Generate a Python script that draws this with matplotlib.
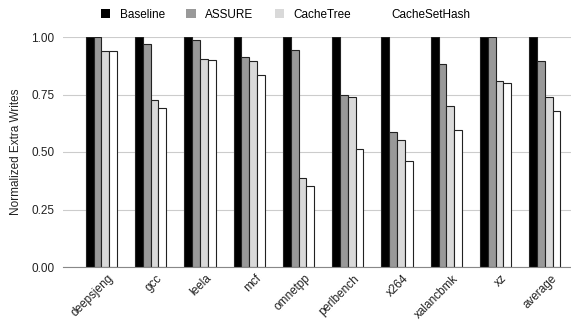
import matplotlib.pyplot as plt
import matplotlib.transforms as mtrans
import numpy as np

plt.rcParams['font.family'] = ['Liberation Sans', 'DejaVu Sans']

benchmarks = ['deepsjeng', 'gcc', 'leela', 'mcf', 'omnetpp', 'perlbench',
              'x264', 'xalancbmk', 'xz', 'average']
baseline = [1.0, 1.0, 1.0, 1.0, 1.0, 1.0, 1.0, 1.0, 1.0, 1.0]
assure = [1.0, 0.971, 0.988, 0.911, 0.945, 0.75, 0.589, 0.884, 1.0, 0.894]
cachetree = [0.938, 0.727, 0.906, 0.894, 0.388, 0.738, 0.554, 0.70, 0.807, 0.737]
cachesethash = [0.938, 0.693, 0.90, 0.833, 0.353, 0.513, 0.461, 0.594, 0.802, 0.68]

series = [('Baseline', baseline, '#000000'),
          ('ASSURE', assure, '#999999'),
          ('CacheTree', cachetree, '#d9d9d9'),
          ('CacheSetHash', cachesethash, '#ffffff')]

fig = plt.figure(figsize=(5.71, 3.2), dpi=100)
ax = fig.add_axes([63 / 571, 53 / 320, 508 / 571, 230 / 320])

x = np.arange(len(benchmarks))
w = 0.158
for i, (name, vals, col) in enumerate(series):
    ax.bar(x + (i - 1.5) * w, vals, w, color=col, edgecolor='#222222',
           linewidth=0.8, label=name, zorder=3)

ax.set_xlim(-0.78, 9.53)
ax.set_ylim(0, 1.0)
ax.set_yticks([0, 0.25, 0.5, 0.75, 1.0])
ax.set_yticklabels(['0.00', '0.25', '0.50', '0.75', '1.00'])
ax.yaxis.grid(True, color='#cccccc', linewidth=0.8, zorder=0)
ax.set_xticks(x)
ax.set_xticklabels(benchmarks, rotation=45, ha='right', rotation_mode='anchor')
ax.tick_params(axis='both', length=0, labelsize=8.5, colors='#222222')
ax.tick_params(axis='x', pad=4)
ax.tick_params(axis='y', pad=6)
# nudge the rotated labels a bit to the right, like the original
shift = mtrans.ScaledTranslation(4 / 72, 0, fig.dpi_scale_trans)
for lbl in ax.get_xticklabels():
    lbl.set_transform(lbl.get_transform() + shift)
for s in ['top', 'right', 'left']:
    ax.spines[s].set_visible(False)
ax.spines['bottom'].set_color('#888888')
ax.spines['bottom'].set_zorder(4)
ax.set_ylabel('Normalized Extra Writes', fontsize=8.5, color='#222222', labelpad=7)

handles, labels = ax.get_legend_handles_labels()
leg = fig.legend(handles, labels, loc='upper center', bbox_to_anchor=(0.5, 1.005),
                 ncol=4, frameon=False, fontsize=8.5, handlelength=0.8,
                 handleheight=0.8, handletextpad=0.8, columnspacing=1.8)
for patch in leg.get_patches():
    patch.set_edgecolor('none')

fig.savefig('out.png', dpi=100)
